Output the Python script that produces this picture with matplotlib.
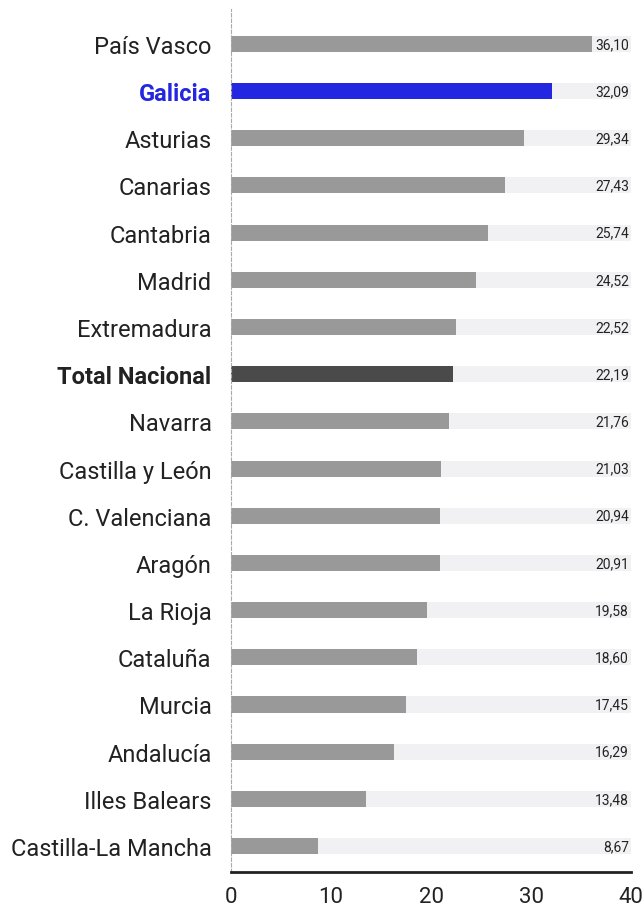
import matplotlib.pyplot as plt

regions = ['País Vasco', 'Galicia', 'Asturias', 'Canarias', 'Cantabria', 'Madrid',
           'Extremadura', 'Total Nacional', 'Navarra', 'Castilla y León',
           'C. Valenciana', 'Aragón', 'La Rioja', 'Cataluña', 'Murcia',
           'Andalucía', 'Illes Balears', 'Castilla-La Mancha']
values = [36.10, 32.09, 29.34, 27.43, 25.74, 24.52, 22.52, 22.19, 21.76, 21.03,
          20.94, 20.91, 19.58, 18.60, 17.45, 16.29, 13.48, 8.67]
xticks = [0, 10, 20, 30, 40]

plt.rcParams['font.family'] = ['Roboto', 'DejaVu Sans']

W, H = 644, 912
fig = plt.figure(figsize=(W / 100, H / 100), dpi=100)
# axes in pixel coords: left 231, right 631, top 10, bottom 873
ax = fig.add_axes([231 / W, 1 - 873 / H, 400 / W, 863 / H])

colors = []
for r in regions:
    if r == 'Galicia':
        colors.append('#2427e0')
    elif r == 'Total Nacional':
        colors.append('#4a4a4a')
    else:
        colors.append('#999999')

y = list(range(len(regions)))
ax.barh(y, [40] * len(y), height=0.34, color='#f1f1f3', zorder=1)
ax.barh(y, values, height=0.34, color=colors, zorder=2)

for i, v in enumerate(values):
    ax.text(39.8, i, f'{v:.2f}'.replace('.', ','), ha='right', va='center',
            fontsize=10, color='#222222', zorder=3)

ax.set_xlim(0, 40)
ax.set_ylim(17.55, -0.74)
ax.set_yticks(y)
ax.set_yticklabels(regions, fontsize=17, color='#222222')
for lab in ax.get_yticklabels():
    if lab.get_text() == 'Galicia':
        lab.set_color('#2427e0')
        lab.set_fontweight('bold')
    elif lab.get_text() == 'Total Nacional':
        lab.set_fontweight('bold')
ax.set_xticks(xticks)
ax.set_xticklabels([str(t) for t in xticks], fontsize=16, color='#222222')
ax.tick_params(axis='y', length=0, pad=14)
ax.tick_params(axis='x', length=0, pad=10)

for s in ['top', 'right']:
    ax.spines[s].set_visible(False)
ax.spines['bottom'].set_linewidth(2)
ax.spines['bottom'].set_color('#222222')
ax.spines['left'].set_linestyle((0, (3, 2)))
ax.spines['left'].set_color('#aaaaaa')
ax.spines['left'].set_linewidth(0.8)

fig.savefig('out.png', dpi=100)
